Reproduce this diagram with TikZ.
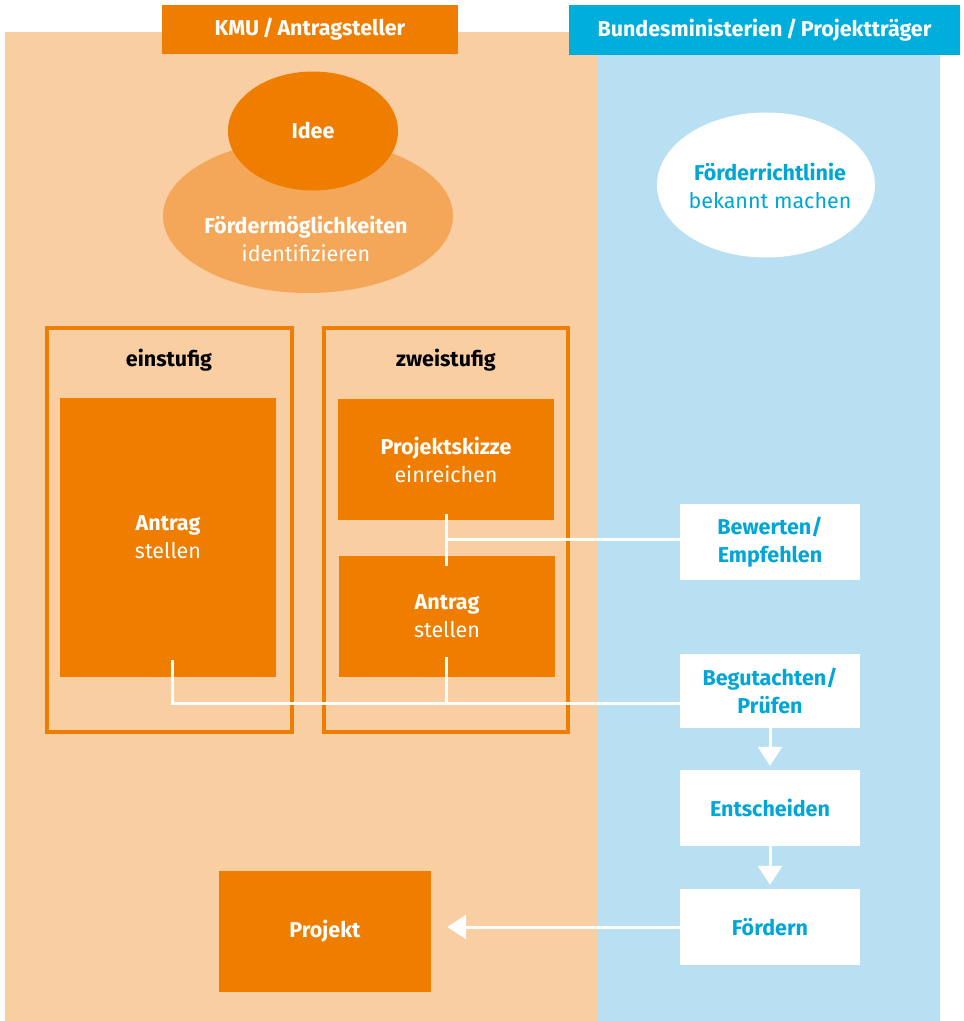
\documentclass[tikz,border=0pt]{standalone}
\usepackage{fontspec}
\setmainfont{Fira Sans}
\usepackage{tikz}
\usetikzlibrary{calc}
\definecolor{KMUorange}{RGB}{239,125,0}
\definecolor{KMUhell}{RGB}{249,206,163}
\definecolor{KMUmittel}{RGB}{244,167,89}
\definecolor{BMblau}{RGB}{0,174,219}
\definecolor{BMhell}{RGB}{184,224,242}
\definecolor{BMtext}{RGB}{0,166,214}
\usetikzlibrary{shapes.geometric}
\usetikzlibrary{arrows.meta}

\begin{document}
\begin{tikzpicture}[x=1pt, y=-1pt,
		Schrift/.style={font=\fontsize{21.5}{28}\selectfont, align=center},
		Kasten/.style={Schrift, rectangle, inner sep=0pt, fill=KMUorange, text=white},
		Weiss/.style={Schrift, rectangle, inner sep=0pt, fill=white, text=BMtext, font=\fontsize{21.5}{28}\selectfont\bfseries},
		Rahmen/.style={rectangle, inner sep=0pt, draw=KMUorange, line width=4pt},
		Linie/.style={draw=white, line width=3pt},
		Pfeil/.style={draw=white, line width=3pt, arrows = -{Triangle[length=19pt, width=24pt]}}]
				\useasboundingbox (0,0) rectangle (964,1021);
				\fill[KMUhell] (5,32) rectangle (597,1021);
				\fill[BMhell] (597,5) rectangle (940,1021);
				\node (kmu) at (310,29.5) [Kasten, minimum width=296, minimum height=49] {\textbf{KMU\,/\,Antragsteller}};
				\node (bm) at (764.5,30) [Kasten, fill=BMblau, minimum width=391, minimum height=50] {\textbf{Bundesministerien\,/\,Projektträger}};
				\node (moeglich) at (308,216) [ellipse, inner sep=0pt, fill=KMUmittel, minimum width=290, minimum height=154] {};
				\node (moeglichText) at (306,239) [Schrift, text=white] {\textbf{Fördermöglichkeiten}\\identifizieren};
				\node (idee) at (313,131) [ellipse, inner sep=0pt, fill=KMUorange, minimum width=170, minimum height=119, Schrift, text=white] {\textbf{Idee}};
				\node (richtlinie) at (766,185) [ellipse, inner sep=0pt, fill=white, minimum width=218, minimum height=145] {};
				\node (richtlinieText) at (770,186) [Schrift, text=BMtext] {\textbf{Förderrichtlinie}\\bekannt machen};
				\node (rahmenEins) at (169.5,530) [Rahmen, minimum width=245, minimum height=404] {};
				\node (rahmenZwei) at (446,530) [Rahmen, minimum width=244, minimum height=404] {};
				\node (einstufig) at (169,360) [Schrift] {\textbf{einstufig}};
				\node (zweistufig) at (446,360) [Schrift] {\textbf{zweistufig}};
				\node (antragEins) at (168,537.5) [Kasten, minimum width=216, minimum height=279] {\textbf{Antrag}\\stellen};
				\node (skizze) at (446,459.5) [Kasten, minimum width=216, minimum height=121] {\textbf{Projektskizze}\\einreichen};
				\node (antragZwei) at (447,616.5) [Kasten, minimum width=216, minimum height=121] {\textbf{Antrag}\\stellen};
				\node (projekt) at (325,931.5) [Kasten, minimum width=212, minimum height=121] {\textbf{Projekt}};
				\node (bewerten) at (770,542) [Weiss, minimum width=180, minimum height=76] {Bewerten/\\Empfehlen};
				\node (begutachten) at (770,691) [Weiss, minimum width=180, minimum height=74] {Begutachten/\\Prüfen};
				\node (entscheiden) at (770,808) [Weiss, minimum width=180, minimum height=76] {Entscheiden};
				\node (foerdern) at (770,927) [Weiss, minimum width=180, minimum height=76] {Fördern};
				\coordinate (pruefPunkt) at ($(begutachten.west)+(0,12)$);
				\coordinate (bewertPunkt) at ($(bewerten.west)+(0,-3)$);
				\draw[Linie] ($(skizze.south)+(0,-6)$) -- ($(antragZwei.north)+(-1,10)$);
				\draw[Linie] (bewertPunkt) -- (bewertPunkt -| skizze.south);
				\draw[Linie] ($(antragEins.south)+(4,-17)$) |- (pruefPunkt);
				\draw[Linie] ($(antragZwei.south)+(-1,-20)$) -- ($(antragZwei.south |- pruefPunkt)+(-1,0)$);
				\draw[Pfeil, shorten >=4pt] (begutachten.south) -- (entscheiden.north);
				\draw[Pfeil, shorten >=4pt] (entscheiden.south) -- (foerdern.north);
				\draw[Pfeil, shorten >=16pt] (foerdern.west) -- (foerdern.west -| projekt.east);
			\end{tikzpicture}
\end{document}
